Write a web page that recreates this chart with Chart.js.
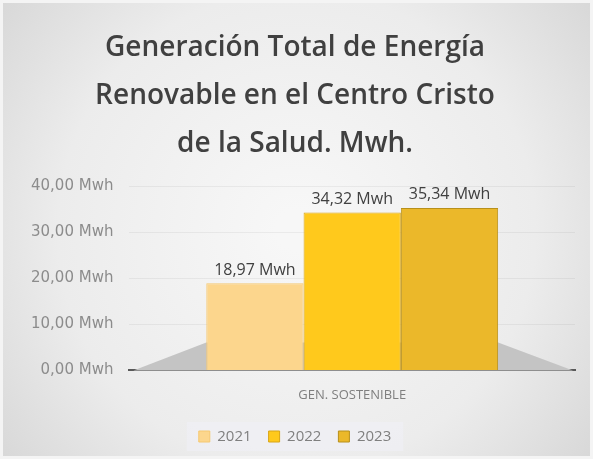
<!DOCTYPE html>
<html><head><meta charset="utf-8">
<script src="https://cdn.jsdelivr.net/npm/chart.js@4/dist/chart.umd.min.js"></script>
<style>html,body{margin:0;padding:0;background:#e6e6e6}#wrap{width:593px;height:459px}</style>
</head><body><div id="wrap"><canvas id="c" width="593" height="459"></canvas></div>
<script>
const categories = ["GEN. SOSTENIBLE"];
const seriesNames = ["2021", "2022", "2023"];
const values2021 = [18.97];
const values2022 = [34.32];
const values2023 = [35.34];
const yTicks = [0, 10, 20, 30, 40];
const titleLines = ["Generación Total de Energía", "Renovable en el Centro Cristo", "de la Salud. Mwh."];

const fmt = v => v.toFixed(2).replace('.', ',') + ' Mwh';

const bgPlugin = {
  id: 'bg',
  beforeDraw(chart) {
    const {ctx, width, height} = chart;
    const g = ctx.createRadialGradient(width*0.5, height*0.5, 20, width*0.5, height*0.5, width*0.65);
    g.addColorStop(0, '#f7f7f7');
    g.addColorStop(0.6, '#ececec');
    g.addColorStop(1, '#d6d6d6');
    ctx.save();
    ctx.fillStyle = g;
    ctx.fillRect(0, 0, width, height);
    ctx.strokeStyle = '#f4f4f4';
    ctx.lineWidth = 3;
    ctx.strokeRect(1.5, 1.5, width-3, height-3);
    const lg = chart.legend;
    if (lg && lg.legendHitBoxes && lg.legendHitBoxes.length) {
      const hb = lg.legendHitBoxes;
      const x0 = hb[0].left - 12, x1 = hb[hb.length-1].left + hb[hb.length-1].width + 12;
      ctx.fillStyle = 'rgba(238,238,243,0.9)';
      ctx.fillRect(x0, hb[0].top - 7, x1 - x0, hb[0].height + 14);
    }
    ctx.restore();
  },
  beforeDatasetsDraw(chart) {
    const {ctx, chartArea} = chart;
    const y0 = chart.scales.y.getPixelForValue(0);
    const meta0 = chart.getDatasetMeta(0).data[0];
    const meta2 = chart.getDatasetMeta(2).data[0];
    const lx = meta0.x - meta0.width/2, rx = meta2.x + meta2.width/2;
    ctx.save();
    ctx.fillStyle = '#c4c4c4';
    ctx.beginPath();
    ctx.moveTo(chartArea.left + 4, y0);
    ctx.lineTo(chartArea.right - 2, y0);
    ctx.lineTo(rx, y0 - 28);
    ctx.lineTo(lx, y0 - 28);
    ctx.closePath();
    ctx.fill();
    ctx.restore();
  }
};

const labelPlugin = {
  id: 'labels',
  afterDatasetsDraw(chart) {
    const {ctx} = chart;
    ctx.save();
    ctx.font = '16px "Open Sans", sans-serif';
    ctx.fillStyle = '#404040';
    ctx.textAlign = 'center';
    ctx.textBaseline = 'bottom';
    chart.data.datasets.forEach((ds, i) => {
      chart.getDatasetMeta(i).data.forEach((bar, j) => {
        ctx.fillText(fmt(ds.data[j]), bar.x, bar.y - 5);
      });
    });
    ctx.restore();
  }
};

new Chart(document.getElementById('c'), {
  type: 'bar',
  data: {
    labels: categories,
    datasets: [
      {label: seriesNames[0], data: values2021, backgroundColor: '#fcd68d', borderColor: '#f5c870', borderWidth: 1},
      {label: seriesNames[1], data: values2022, backgroundColor: '#ffc91c', borderColor: '#d9a514', borderWidth: 1},
      {label: seriesNames[2], data: values2023, backgroundColor: '#ebb82a', borderColor: '#b8901a', borderWidth: 1}
    ]
  },
  options: {
    responsive: false,
    animation: false,
    devicePixelRatio: 1,
    datasets: {bar: {categoryPercentage: 0.655, barPercentage: 1.0}},
    layout: {padding: {left: 15, right: 18, top: 8, bottom: 5}},
    plugins: {
      title: {
        display: true,
        text: titleLines,
        color: '#404040',
        font: {family: '"Open Sans", sans-serif', size: 28, weight: '600', lineHeight: 1.72},
        padding: {top: 16, bottom: 18}
      },
      legend: {
        position: 'bottom',
        labels: {boxWidth: 11, boxHeight: 11, color: '#7f7f7f', font: {family: '"Open Sans", sans-serif', size: 15}, padding: 17},
      },
      tooltip: {enabled: false}
    },
    scales: {
      x: {
        grid: {display: false},
        border: {display: true, color: '#595959', width: 2},
        ticks: {color: '#7f7f7f', font: {family: '"Open Sans", sans-serif', size: 13}, padding: 9}
      },
      y: {
        min: 0, max: 40,
        afterBuildTicks: s => { s.ticks = yTicks.map(v => ({value: v})); },
        grid: {color: 'rgba(0,0,0,0.05)', tickLength: 0, drawTicks: false},
        border: {display: false},
        ticks: {color: '#8c8c8c', font: {family: '"DejaVu Sans", sans-serif', size: 15}, padding: 16, callback: v => fmt(v)}
      }
    }
  },
  plugins: [bgPlugin, labelPlugin]
});
</script>
</body></html>
